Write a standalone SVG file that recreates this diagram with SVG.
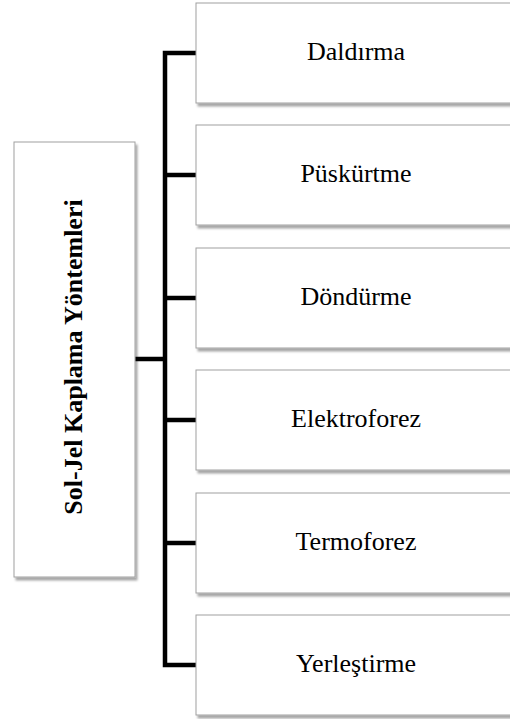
<svg xmlns="http://www.w3.org/2000/svg" width="510" height="719" viewBox="0 0 510 719">
  <defs>
    <filter id="shadow" x="-10%" y="-10%" width="130%" height="130%">
      <feDropShadow dx="2" dy="3" stdDeviation="1.3" flood-color="#000" flood-opacity="0.35"/>
    </filter>
  </defs>
  <style>
    .box { fill: #ffffff; stroke: #a0a0a0; stroke-width: 1; filter: url(#shadow); }
    .label { font-family: "Liberation Serif", "Times New Roman", serif; font-size: 26px; fill: #000; text-anchor: middle; }
    .title { font-weight: bold; }
    .wire { fill: none; stroke: #000; stroke-width: 4.5; stroke-linejoin: miter; stroke-linecap: butt; }
  </style>
  <rect width="510" height="719" fill="#ffffff"/>

  <!-- connectors -->
  <g id="connectors">
    <line class="wire" x1="135" y1="359" x2="165" y2="359"/>
    <polyline class="wire" points="196,53 165,53 165,665 196,665"/>
    <line class="wire" x1="165" y1="175" x2="196" y2="175"/>
    <line class="wire" x1="165" y1="298" x2="196" y2="298"/>
    <line class="wire" x1="165" y1="420" x2="196" y2="420"/>
    <line class="wire" x1="165" y1="543" x2="196" y2="543"/>
  </g>

  <!-- root node -->
  <g id="root">
    <rect class="box" x="14" y="142" width="121" height="435"/>
    <text class="label title" transform="translate(82,357) rotate(-90)">Sol-Jel Kaplama Yöntemleri</text>
  </g>

  <!-- method nodes -->
  <g id="daldirma">
    <rect class="box" x="196" y="3" width="318" height="100"/>
    <text class="label" x="356" y="60">Daldırma</text>
  </g>
  <g id="puskurtme">
    <rect class="box" x="196" y="125" width="318" height="100"/>
    <text class="label" x="356" y="182">Püskürtme</text>
  </g>
  <g id="dondurme">
    <rect class="box" x="196" y="248" width="318" height="100"/>
    <text class="label" x="356" y="305">Döndürme</text>
  </g>
  <g id="elektroforez">
    <rect class="box" x="196" y="370" width="318" height="100"/>
    <text class="label" x="356" y="427">Elektroforez</text>
  </g>
  <g id="termoforez">
    <rect class="box" x="196" y="493" width="318" height="100"/>
    <text class="label" x="356" y="550">Termoforez</text>
  </g>
  <g id="yerlestirme">
    <rect class="box" x="196" y="615" width="318" height="100"/>
    <text class="label" x="356" y="672">Yerleştirme</text>
  </g>
</svg>
